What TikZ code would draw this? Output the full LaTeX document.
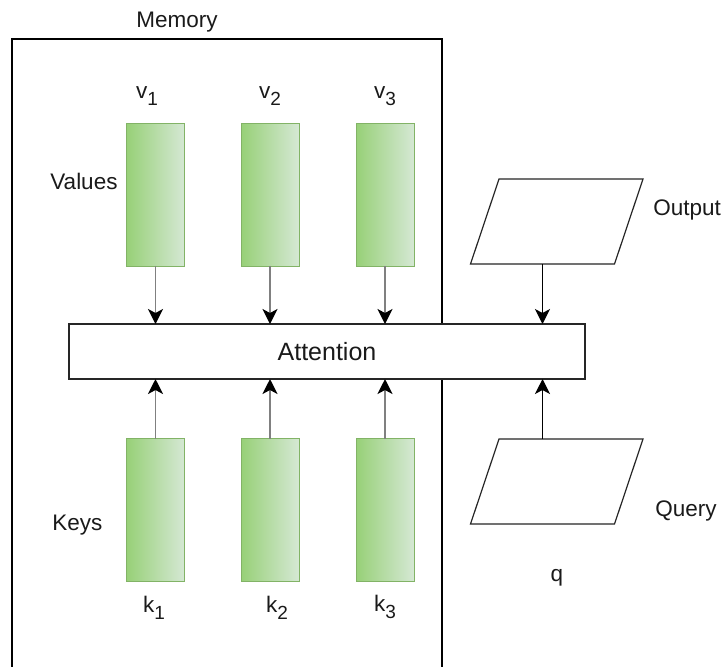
\documentclass[tikz,border=0pt]{standalone}
\usepackage{fontspec}
\setmainfont{Liberation Sans}
\usetikzlibrary{arrows.meta}
\definecolor{gA}{HTML}{97D077}
\definecolor{gB}{HTML}{D5E8D4}
\definecolor{gS}{HTML}{82B366}
\definecolor{txt}{HTML}{1A1A1A}
\definecolor{arrg}{HTML}{808080}
\newcommand{\subidx}[1]{\raisebox{-3.2pt}{\fontsize{9.5}{10}\selectfont #1}}
\tikzset{
  bar/.style={draw=gS, line width=0.5pt, left color=gA, right color=gB,
    minimum width=29pt, minimum height=71.5pt, inner sep=0pt, outer sep=0pt},
  lbl/.style={font=\fontsize{11.25}{13}\selectfont, text=txt, inner sep=0pt},
  arrtip/.style={-{Stealth[length=7.5pt,width=7.5pt,inset=2pt,color=black]}},
  grayarr/.style={arrtip, draw=arrg, line width=0.9pt},
  blackarr/.style={arrtip, draw=black, line width=0.6pt},
  membox/.style={draw=black, line width=1.25pt, minimum width=215pt,
    minimum height=330.5pt, inner sep=0pt, outer sep=0pt},
  attbox/.style={draw=black!85, line width=0.7pt, fill=white, minimum width=258pt,
    minimum height=27.5pt, inner sep=0pt, outer sep=0pt,
    font=\fontsize{12.5}{15}\selectfont, text=txt},
  para/.style={draw=black!85, line width=0.6pt, fill=white, line join=miter}
}
\begin{document}
\begin{tikzpicture}[x=0.5pt,y=-0.5pt]
\clip (0,0) rectangle (723,666);
\fill[white] (0,0) rectangle (723,666);

% memory container
\node[membox] (mem) at (227,369.5) {};
\node[lbl] (memlbl) at (177,22) {Memory};

% value bars
\node[bar] (v1) at (155.5,194.5) {};
\node[bar] (v2) at (270,194.5) {};
\node[bar] (v3) at (385,194.5) {};
% key bars
\node[bar] (k1) at (155.5,510) {};
\node[bar] (k2) at (270,510) {};
\node[bar] (k3) at (385,510) {};

% labels
\node[lbl] (lv1) at (147,96) {v\subidx{1}};
\node[lbl] (lv2) at (270,96) {v\subidx{2}};
\node[lbl] (lv3) at (385,96) {v\subidx{3}};
\node[lbl] (lk1) at (154,608) {k\subidx{1}};
\node[lbl] (lk2) at (277,608) {k\subidx{2}};
\node[lbl] (lk3) at (385,607) {k\subidx{3}};
\node[lbl, anchor=west] (lvals) at (50,181) {Values};
\node[lbl, anchor=west] (lkeys) at (52,525) {Keys};

% attention
\node[attbox] (att) at (327,351.5) {Attention};

% output / query parallelograms
\draw[para] (499,179) -- (643,179) -- (614.5,264) -- (470.5,264) -- cycle;
\coordinate (outb) at (542.5,264);
\draw[para] (499,439) -- (643,439) -- (614.5,524) -- (470.5,524) -- cycle;
\coordinate (qryx) at (542.5,439);
\node[lbl, anchor=west] (lout) at (653,210) {Output};
\node[lbl, anchor=west] (lqry) at (655,511) {Query};
\node[lbl] (lq) at (557,578) {q};

% connectors
\foreach \b in {v1,v2,v3} \draw[grayarr] (\b.south) -- (\b.south |- att.north);
\foreach \b in {k1,k2,k3} \draw[grayarr] (\b.north) -- (\b.north |- att.south);
\draw[blackarr] (outb) -- (outb |- att.north);
\draw[blackarr] (qryx) -- (qryx |- att.south);
\end{tikzpicture}
\end{document}
